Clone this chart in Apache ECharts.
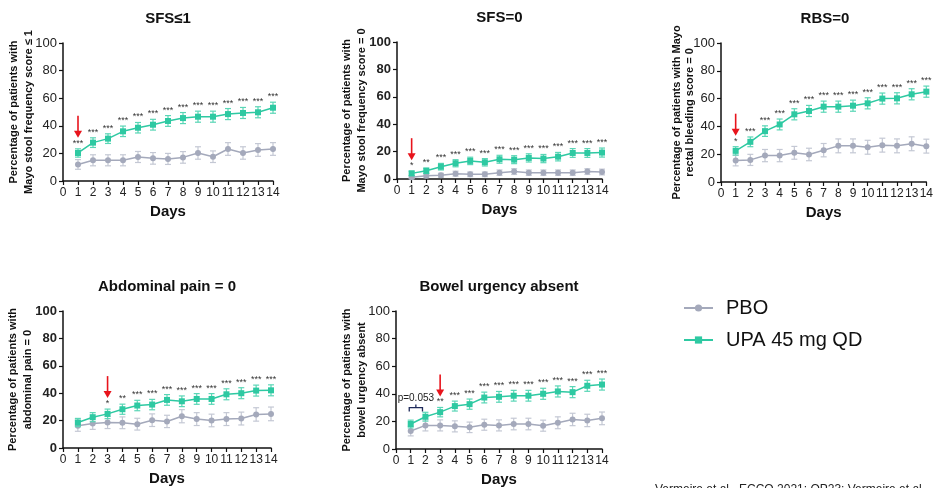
<!DOCTYPE html>
<html>
<head>
<meta charset="utf-8">
<script src="https://cdn.jsdelivr.net/npm/echarts@6/dist/echarts.min.js"></script>
<style>
  html, body { margin: 0; padding: 0; background: #fff; }
  #main { width: 936px; height: 488px; }
</style>
</head>
<body>
<div id="main"></div>
<script>
// data (percentage of patients, days 1-14)
const days = [1, 2, 3, 4, 5, 6, 7, 8, 9, 10, 11, 12, 13, 14]

const sfs1Pbo = [12, 15, 15, 15, 17.4, 16.4, 16, 17.1, 20.3, 17.6, 23.2, 20.3, 22.5, 23.2]
const sfs1PboErr = [3.5, 4, 4, 4, 4, 4.2, 4, 4.2, 4.5, 4.2, 4.6, 4.5, 4.6, 4.6]
const sfs1Upa = [20.3, 27.8, 30.7, 36, 38.6, 40.8, 43.5, 45.6, 46.6, 46.6, 48.5, 49.3, 49.8, 53.1]
const sfs1UpaErr = [3, 3.5, 3.5, 3.8, 3.8, 3.9, 3.9, 4, 4, 4, 4, 4, 4, 4]
const sfs1Stars = ['***', '***', '***', '***', '***', '***', '***', '***', '***', '***', '***', '***', '***', '***']

const sfs0Pbo = [1.2, 2.4, 2.7, 3.9, 3.4, 3.4, 4.6, 5.4, 4.6, 4.6, 4.6, 4.6, 5.4, 5.1]
const sfs0PboErr = [1, 1.4, 1.5, 1.8, 1.7, 1.7, 2, 2.1, 2, 2, 2, 2, 2.1, 2.1]
const sfs0Upa = [4.1, 6, 9, 11.5, 13.2, 12.2, 14.4, 14.1, 15.4, 14.9, 16.3, 19, 19, 19.3]
const sfs0UpaErr = [1.6, 2, 2.4, 2.6, 2.7, 2.7, 2.9, 2.9, 3, 3, 3.1, 3.2, 3.2, 3.3]
const sfs0Stars = ['*', '**', '***', '***', '***', '***', '***', '***', '***', '***', '***', '***', '***', '***']

const rbsPbo = [15.4, 15.9, 19, 19, 21, 19.8, 22.9, 26, 26, 25, 26.5, 26, 27.5, 25.8]
const rbsPboErr = [3.8, 4, 4.4, 4.4, 4.6, 4.5, 4.8, 5, 5, 5, 5, 5, 5, 5]
const rbsUpa = [22.4, 28.9, 36.6, 41.4, 48.7, 51.1, 54.2, 54.2, 54.9, 56.6, 60, 60.2, 63.1, 65]
const rbsUpaErr = [3, 3.5, 3.8, 3.9, 4, 4, 4, 4, 4, 4, 4, 4, 4, 4]
const rbsStars = ['*', '***', '***', '***', '***', '***', '***', '***', '***', '***', '***', '***', '***', '***']

const painPbo = [16.2, 17.9, 18.6, 18.4, 17.4, 20.3, 19.4, 23.2, 21.1, 20.1, 21.1, 21.5, 24.5, 24.9]
const painPboErr = [4, 4.3, 4.4, 4.3, 4.3, 4.6, 4.5, 4.8, 4.7, 4.6, 4.7, 4.7, 4.9, 5]
const painUpa = [18.6, 22.5, 24.9, 28.3, 31, 31.7, 35.1, 34.1, 35.8, 35.8, 39.2, 40, 41.9, 42.1]
const painUpaErr = [3, 3.3, 3.5, 3.7, 3.8, 3.8, 3.9, 3.9, 3.9, 3.9, 4, 4, 4, 4]
const painStars = ['', '', '*', '**', '***', '***', '***', '***', '***', '***', '***', '***', '***', '***']

const urgPbo = [13, 17.1, 17.1, 16.4, 15.7, 17.6, 17.1, 18.1, 18.1, 16.9, 19, 21.4, 20.7, 22.2]
const urgPboErr = [3.5, 4, 4, 4, 3.8, 4, 4, 4.2, 4.2, 4, 4.3, 4.5, 4.5, 4.6]
const urgUpa = [18.1, 23.4, 26.7, 31.1, 32.5, 37.3, 37.8, 38.6, 38.6, 40, 41.7, 41.2, 45.8, 46.7]
const urgUpaErr = [2.8, 3.2, 3.4, 3.6, 3.7, 3.9, 3.9, 3.9, 3.9, 4, 4, 4, 4, 4]
const urgStars = ['', '', '**', '***', '***', '***', '***', '***', '***', '***', '***', '***', '***', '***']

const yTicks = [0, 20, 40, 60, 80, 100]

const panels = [
  { title: 'SFS≤1', yName: 'Percentage of patients with\nMayo stool frequency score ≤ 1',
    pbo: sfs1Pbo, pboErr: sfs1PboErr, upa: sfs1Upa, upaErr: sfs1UpaErr, stars: sfs1Stars, arrowDay: 1,
    grid: { left: 63, top: 43, width: 210, height: 138 }, boldY: false, nameGap: 27 },
  { title: 'SFS=0', yName: 'Percentage of patients with\nMayo stool frequency score = 0',
    pbo: sfs0Pbo, pboErr: sfs0PboErr, upa: sfs0Upa, upaErr: sfs0UpaErr, stars: sfs0Stars, arrowDay: 1,
    grid: { left: 397, top: 42, width: 205, height: 137 }, boldY: true, nameGap: 28 },
  { title: 'RBS=0', yName: 'Percentage of patients with Mayo\nrectal bleeding score = 0',
    pbo: rbsPbo, pboErr: rbsPboErr, upa: rbsUpa, upaErr: rbsUpaErr, stars: rbsStars, arrowDay: 1,
    grid: { left: 721, top: 43, width: 208, height: 139 }, boldY: false, nameGap: 25, nameLH: 13 },
  { title: 'Abdominal pain = 0', yName: 'Percentage of patients with\nabdominal pain = 0',
    pbo: painPbo, pboErr: painPboErr, upa: painUpa, upaErr: painUpaErr, stars: painStars, arrowDay: 3,
    grid: { left: 63, top: 311, width: 208, height: 137 }, boldY: true, nameGap: 28 },
  { title: 'Bowel urgency absent', yName: 'Percentage of patients with\nbowel urgency absent',
    pbo: urgPbo, pboErr: urgPboErr, upa: urgUpa, upaErr: urgUpaErr, stars: urgStars, arrowDay: 3,
    grid: { left: 396, top: 311, width: 206, height: 138 }, boldY: false, nameGap: 27, bracket: [1, 2] }
]

const FONT = 'Arial, "Liberation Sans", sans-serif'
const upaColor = '#2ec9a2'
const upaErrColor = '#5ad6b6'
const pboColor = '#a4a9bb'
const pboErrColor = '#c4c8d4'

function errorBarItem(color, withStars) {
  return function (params, api) {
    const x = api.value(0), y = api.value(1), e = api.value(2)
    const top = api.coord([x, y + e])
    const bot = api.coord([x, y - e])
    const w = 3
    const style = { stroke: color, lineWidth: 1.2 }
    const children = [
      { type: 'line', shape: { x1: top[0], y1: top[1], x2: bot[0], y2: bot[1] }, style },
      { type: 'line', shape: { x1: top[0] - w, y1: top[1], x2: top[0] + w, y2: top[1] }, style },
      { type: 'line', shape: { x1: bot[0] - w, y1: bot[1], x2: bot[0] + w, y2: bot[1] }, style }
    ]
    if (withStars) {
      const s = api.value(3)
      if (s) {
        children.push({
          type: 'text',
          style: { text: s, x: top[0], y: top[1] - 1, align: 'center', verticalAlign: 'bottom',
            fontSize: 9, fontFamily: FONT, fill: '#333' }
        })
      }
    }
    return { type: 'group', children }
  }
}

function arrowItem(params, api) {
  const p = api.coord([api.value(0), api.value(1)])
  const tip = p[1] - 11
  const len = 22
  return {
    type: 'group',
    children: [
      { type: 'line', shape: { x1: p[0], y1: tip - len, x2: p[0], y2: tip - 6 },
        style: { stroke: '#e8141c', lineWidth: 1.6 } },
      { type: 'polygon', shape: { points: [[p[0] - 4, tip - 7], [p[0] + 4, tip - 7], [p[0], tip]] },
        style: { fill: '#e8141c' } }
    ]
  }
}

function bracketItem(params, api) {
  const a = api.coord([api.value(0) - 0.1, 30])
  const b = api.coord([api.value(1) - 0.2, 30])
  const mid = (a[0] + b[0]) / 2
  const y = a[1]
  const st = { stroke: '#1e2a5a', lineWidth: 1.3, fill: null }
  return {
    type: 'group',
    children: [
      { type: 'polyline', shape: { points: [[a[0], y + 4], [a[0], y], [b[0], y], [b[0], y + 4]] }, style: st },
      { type: 'line', shape: { x1: mid, y1: y, x2: mid, y2: y - 3 }, style: st },
      { type: 'text', style: { text: 'p=0.053', x: mid, y: y - 4, align: 'center', verticalAlign: 'bottom',
        fontSize: 10, fontFamily: FONT, fill: '#222' } }
    ]
  }
}

const option = {
  animation: false,
  title: [],
  grid: [],
  xAxis: [],
  yAxis: [],
  series: [],
  legend: {
    orient: 'vertical',
    left: 678,
    top: 293,
    itemWidth: 29,
    itemHeight: 9,
    itemGap: 12,
    data: ['PBO', 'UPA 45 mg QD'],
    textStyle: { fontSize: 20, fontFamily: FONT, color: '#111', padding: [0, 0, 0, 8] }
  },
  graphic: [{
    type: 'text', left: 655, top: 484,
    style: { text: 'Vermeire et al., ECCO 2021; OP23; Vermeire et al.', fontSize: 12, fontFamily: FONT, fill: '#222' }
  }]
}

panels.forEach(function (p, i) {
  option.title.push({
    text: p.title,
    left: p.grid.left + p.grid.width / 2 - 5,
    top: p.grid.top - 37,
    textAlign: 'center',
    textStyle: { fontSize: 15, fontWeight: 'bold', fontFamily: FONT, color: '#111' }
  })
  option.grid.push(Object.assign({ containLabel: false }, p.grid))
  option.xAxis.push({
    type: 'value', gridIndex: i, min: 0, max: 14, interval: 1,
    name: 'Days', nameLocation: 'middle', nameGap: 23,
    nameTextStyle: { fontSize: 15, fontWeight: 'bold', fontFamily: FONT, color: '#111' },
    axisLine: { onZero: false, lineStyle: { color: '#111', width: 1.5 } },
    axisTick: { length: 4, lineStyle: { color: '#111', width: 1.2 } },
    axisLabel: { fontSize: 12, fontFamily: FONT, color: '#222', margin: 6 },
    splitLine: { show: false }
  })
  option.yAxis.push({
    type: 'value', gridIndex: i, min: yTicks[0], max: yTicks[yTicks.length - 1], interval: 20,
    name: p.yName, nameLocation: 'middle', nameGap: p.nameGap, nameMoveOverlap: false,
    nameTextStyle: { fontSize: 11, fontWeight: 'bold', fontFamily: FONT, color: '#111', lineHeight: p.nameLH || 15 },
    axisLine: { show: true, lineStyle: { color: '#111', width: 1.5 } },
    axisTick: { show: true, length: 4, lineStyle: { color: '#111', width: 1.2 } },
    axisLabel: { fontSize: 13, fontFamily: FONT, color: '#222', margin: 6,
      fontWeight: p.boldY ? 'bold' : 'normal' },
    splitLine: { show: false }
  })

  option.series.push({
    type: 'custom', name: 'PBO err', xAxisIndex: i, yAxisIndex: i, z: 1,
    renderItem: errorBarItem(pboErrColor, false),
    encode: { x: 0, y: 1 },
    data: days.map(function (d, k) { return [d, p.pbo[k], p.pboErr[k]] })
  })
  option.series.push({
    type: 'line', name: 'PBO', xAxisIndex: i, yAxisIndex: i, z: 2,
    symbol: 'circle', symbolSize: 6,
    itemStyle: { color: pboColor },
    lineStyle: { color: pboColor, width: 1.5 },
    data: days.map(function (d, k) { return [d, p.pbo[k]] })
  })
  option.series.push({
    type: 'custom', name: 'UPA err', xAxisIndex: i, yAxisIndex: i, z: 3,
    renderItem: errorBarItem(upaErrColor, true),
    encode: { x: 0, y: 1 },
    data: days.map(function (d, k) { return [d, p.upa[k], p.upaErr[k], p.stars[k]] })
  })
  option.series.push({
    type: 'line', name: 'UPA 45 mg QD', xAxisIndex: i, yAxisIndex: i, z: 4,
    symbol: 'rect', symbolSize: 6,
    itemStyle: { color: upaColor },
    lineStyle: { color: upaColor, width: 1.5 },
    data: days.map(function (d, k) { return [d, p.upa[k]] })
  })
  const k = p.arrowDay - 1
  option.series.push({
    type: 'custom', name: 'arrow', xAxisIndex: i, yAxisIndex: i, z: 5,
    renderItem: arrowItem, encode: { x: 0, y: 1 },
    data: [[p.arrowDay, p.upa[k] + p.upaErr[k]]]
  })
  if (p.bracket) {
    option.series.push({
      type: 'custom', name: 'bracket', xAxisIndex: i, yAxisIndex: i, z: 5,
      renderItem: bracketItem, encode: { x: 0 },
      data: [p.bracket]
    })
  }
})

const chart = echarts.init(document.getElementById('main'))
chart.setOption(option)
</script>
</body>
</html>
